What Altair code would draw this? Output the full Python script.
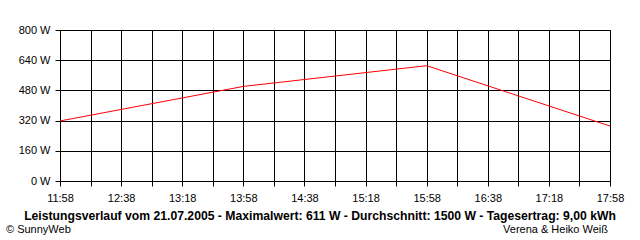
import altair as alt
import pandas as pd

# ---- data ----
times = ["11:58", "13:58", "15:58", "17:58"]
watts = [318, 501, 611, 291]
y_ticks = [0, 160, 320, 480, 640, 800]
x_labels = ["11:58", "12:38", "13:18", "13:58", "14:38", "15:18", "15:58", "16:38", "17:18", "17:58"]
title_text = "Leistungsverlauf vom 21.07.2005 - Maximalwert: 611 W - Durchschnitt: 1500 W - Tagesertrag: 9,00 kWh"
left_credit = "\u00a9 SunnyWeb"
right_credit = "Verena & Heiko Wei\u00df"
grid_step_min = 20
label_step_min = 40


def to_min(s):
    h, m = s.split(":")
    return int(h) * 60 + int(m)


start = to_min(x_labels[0])
end = to_min(x_labels[-1])
df = pd.DataFrame({"min": [to_min(t) for t in times], "W": watts})
grid_vals = list(range(start, end + 1, grid_step_min))

FONT = "Liberation Sans"

label_expr = (
    f"(datum.value - {start}) % {label_step_min} == 0 ? "
    "floor(datum.value / 60) + ':' + (datum.value % 60 < 10 ? '0' : '') + (datum.value % 60) : ''"
)

line = alt.Chart(df).mark_line(color="#ff0000", strokeWidth=1).encode(
    x=alt.X(
        "min:Q",
        scale=alt.Scale(domain=[start, end], nice=False, zero=False),
        axis=alt.Axis(
            values=grid_vals,
            labelExpr=label_expr,
            title=None,
            grid=True,
            gridColor="black",
            gridOpacity=1,
            gridWidth=1,
            domainColor="black",
            tickColor="black",
            tickSize=5,
            labelPadding=6,
            labelFont=FONT,
            labelFontSize=11,
            labelColor="black",
            labelFlush=False,
            labelOverlap=False,
        ),
    ),
    y=alt.Y(
        "W:Q",
        scale=alt.Scale(domain=[y_ticks[0], y_ticks[-1]], nice=False),
        axis=alt.Axis(
            values=y_ticks,
            labelExpr="datum.value + ' W'",
            title=None,
            grid=True,
            gridColor="black",
            gridOpacity=1,
            gridWidth=1,
            domainColor="black",
            tickColor="black",
            tickSize=5,
            labelPadding=5,
            labelFont=FONT,
            labelFontSize=11,
            labelColor="black",
            labelFlush=False,
            labelOverlap=False,
        ),
    ),
)

title_layer = alt.Chart(pd.DataFrame({"t": [title_text]})).mark_text(
    align="center", baseline="alphabetic", font=FONT, fontWeight="bold", fontSize=12.2, color="black"
).encode(text="t:N", x=alt.value(260), y=alt.value(190))

left_layer = alt.Chart(pd.DataFrame({"t": [left_credit]})).mark_text(
    align="left", baseline="alphabetic", font=FONT, fontSize=11, color="black"
).encode(text="t:N", x=alt.value(-54), y=alt.value(203))

right_layer = alt.Chart(pd.DataFrame({"t": [right_credit]})).mark_text(
    align="right", baseline="alphabetic", font=FONT, fontSize=11, color="black"
).encode(text="t:N", x=alt.value(548), y=alt.value(203))

chart = (
    alt.layer(line, title_layer, left_layer, right_layer)
    .properties(
        width=550,
        height=151,
        autosize=alt.AutoSizeParams(type="none"),
        padding={"left": 60, "top": 30, "right": 30, "bottom": 59},
        background="white",
    )
    .configure_view(stroke="black", strokeWidth=1)
)

chart.save("out.html", embed_options={"renderer": "svg", "actions": False})
